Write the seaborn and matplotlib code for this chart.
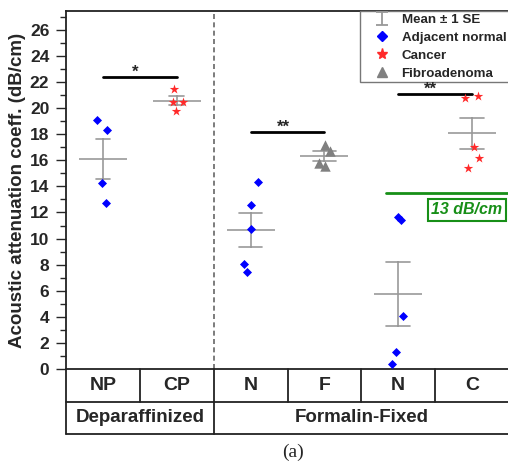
import numpy as np
import pandas as pd
import seaborn as sns
import matplotlib.pyplot as plt
import matplotlib.transforms as mtransforms
from matplotlib.lines import Line2D
from matplotlib.ticker import MultipleLocator

# columns of the category table, left to right
categories = ["NP", "CP", "N1", "F", "N2", "C"]
category_labels = ["NP", "CP", "N", "F", "N", "C"]
category_group = ["Deparaffinized", "Deparaffinized",
                  "Formalin-Fixed", "Formalin-Fixed", "Formalin-Fixed", "Formalin-Fixed"]
category_tissue = ["Adjacent normal", "Cancer", "Adjacent normal",
                   "Fibroadenoma", "Adjacent normal", "Cancer"]

# attenuation values (dB/cm)
np_vals = [19.1, 18.3, 14.3, 12.75]
cp_vals = [21.5, 20.5, 20.5, 19.8]
n1_vals = [14.35, 12.6, 10.7, 8.05, 7.45]
f_vals = [17.15, 16.75, 15.8, 15.55]
n2_vals = [11.65, 11.4, 4.1, 1.3, 0.35]
c_vals = [20.95, 20.75, 17.0, 16.2, 15.4]

# significance brackets
sig_left = ["NP", "N1", "N2"]
sig_right = ["CP", "F", "C"]
sig_heights = [22.4, 18.15, 21.1]
sig_labels = ["*", "**", "**"]

threshold = 13.5
threshold_label = "13 dB/cm"

values = [np_vals, cp_vals, n1_vals, f_vals, n2_vals, c_vals]
rows = []
for cat, grp, tis, vals in zip(categories, category_group, category_tissue, values):
    for v in vals:
        rows.append({"category": cat, "group": grp, "tissue": tis, "value": v})
df = pd.DataFrame(rows)

sns.set_style("ticks")
plt.rcParams["font.family"] = ["Liberation Sans", "DejaVu Sans"]
plt.rcParams["font.weight"] = "bold"

W, H = 508, 463
fig = plt.figure(figsize=(W / 100, H / 100), dpi=100)
ax = fig.add_axes([66 / W, 1 - 369 / H, 443 / W, 358 / H])

err_grey = "#999999"
styles = {
    "Adjacent normal": dict(marker="D", color="#0000ff", size=4.6),
    "Cancer": dict(marker="*", color="#ff2a2a", size=7.2),
    "Fibroadenoma": dict(marker="^", color="#808080", size=7.5),
}

# mean +/- 1 SE, drawn first so the points sit on top
for grp, cap in zip(["Deparaffinized", "Formalin-Fixed"], [0.2, 0.32]):
    sns.pointplot(data=df[df.group == grp], x="category", y="value", order=categories,
                  errorbar="se", capsize=cap, color=err_grey, markers="_",
                  markersize=34, markeredgewidth=1.2, linestyle="none",
                  err_kws={"linewidth": 1.2}, ax=ax)

np.random.seed(7)
for tissue, st in styles.items():
    sns.stripplot(data=df[df.tissue == tissue], x="category", y="value", order=categories,
                  marker=st["marker"], color=st["color"], size=st["size"],
                  jitter=0.1, linewidth=0, ax=ax, zorder=4)

n = len(categories)
ax.set_xlim(-0.5, n - 0.5)
ax.set_ylim(0, 27.45)
ax.yaxis.set_major_locator(MultipleLocator(2))
ax.yaxis.set_minor_locator(MultipleLocator(1))
ax.tick_params(axis="y", which="major", length=7, width=1, labelsize=12.5, pad=5)
ax.tick_params(axis="y", which="minor", length=4, width=1)
ax.set_xticks([])
ax.set_xlabel("")
ax.set_ylabel("Acoustic attenuation coeff. (dB/cm)", fontsize=13.5,
              fontweight="bold", labelpad=3)
for sp in ["left", "top", "bottom"]:
    ax.spines[sp].set_color("#222222")
    ax.spines[sp].set_linewidth(1.3)
ax.spines["right"].set_visible(False)

# dashed separator between the two preparation groups
n_dep = category_group.count("Deparaffinized")
ax.axvline(n_dep - 0.5, color="#666666", lw=1.2, ls=(0, (3, 2)), zorder=1)

# significance brackets
for a, b, h, lab in zip(sig_left, sig_right, sig_heights, sig_labels):
    xa, xb = categories.index(a), categories.index(b)
    ax.plot([xa, xb], [h, h], color="black", lw=2)
    ax.text((xa + xb) / 2 - 0.06, h - 0.2, lab, ha="center", va="bottom",
            fontsize=12, fontweight="bold", zorder=6)

# 13 dB/cm threshold
green = "#178f17"
ax.plot([3.84, n - 0.5], [threshold, threshold], color=green, lw=2, clip_on=False)
ax.text(4.93, 12.2, threshold_label, color=green, fontsize=11.5, fontweight="bold",
        style="italic", ha="center", va="center",
        bbox=dict(boxstyle="square,pad=0.2", fc="white", ec=green, lw=1.5))

# legend
eb = ax.errorbar([0], [-50], yerr=1, fmt="none", ecolor=err_grey, elinewidth=1.3,
                 capsize=4, capthick=1.3)
handles = [eb] + [Line2D([], [], ls="none", marker=st["marker"], color=st["color"],
                         markersize=st["size"] if st["marker"] != "*" else 8)
                  for st in styles.values()]
labels = ["Mean \u00b1 1 SE"] + list(styles.keys())
leg = ax.legend(handles, labels, loc="upper right", bbox_to_anchor=(1.0, 1.0),
                borderaxespad=0, fancybox=False, edgecolor="#777777", framealpha=1,
                prop={"weight": "bold", "size": 9.6}, handlelength=2.8,
                handletextpad=0.1, labelspacing=0.42, borderpad=0.2)
leg.get_frame().set_linewidth(1)

# category table below the axis
trans = mtransforms.blended_transform_factory(ax.transData, ax.transAxes)
row1 = -33 / 358
row2 = -65 / 358
lc = "#222222"
for y in [row1, row2]:
    ax.plot([-0.5, n - 0.5], [y, y], transform=trans, clip_on=False, color=lc, lw=1.3)
ax.plot([-0.5, -0.5], [0, row2], transform=trans, clip_on=False, color=lc, lw=1.3)
for i in range(1, n):
    ax.plot([i - 0.5, i - 0.5], [0, row1], transform=trans, clip_on=False, color=lc, lw=1.3)
ax.plot([n_dep - 0.5, n_dep - 0.5], [row1, row2], transform=trans, clip_on=False,
        color=lc, lw=1.3)
for i, lab in enumerate(category_labels):
    ax.text(i, row1 / 2, lab, transform=trans, ha="center", va="center",
            fontsize=14, fontweight="bold")
start = 0
for grp in ["Deparaffinized", "Formalin-Fixed"]:
    cnt = category_group.count(grp)
    ax.text(start + cnt / 2 - 0.5, (row1 + row2) / 2, grp, transform=trans,
            ha="center", va="center", fontsize=13.5, fontweight="bold")
    start += cnt

fig.text(292.7 / W, 1 - 452.7 / H, "(a)", family="Liberation Serif", fontweight="normal",
         fontsize=14, ha="center", va="center")

fig.savefig("out.png", dpi=100)
